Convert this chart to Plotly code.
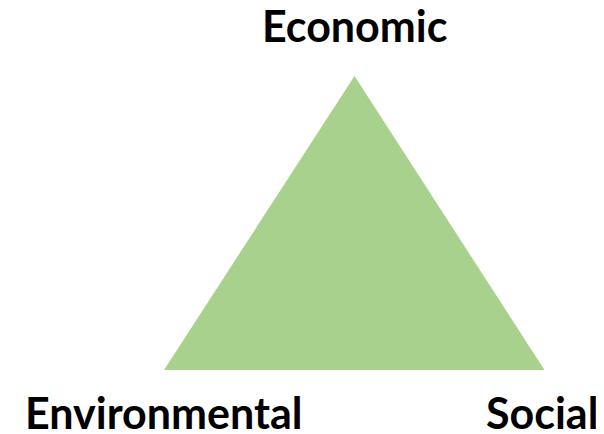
import plotly.graph_objects as go

# Triangle vertices (pillar positions) and labels
labels = ["Economic", "Environmental", "Social"]
tri_x = [354.5, 164, 544.5, 354.5]
tri_y = [76, 370, 370, 76]
label_x = [355, 163.5, 541.5]
label_y = [25, 412.5, 412.5]

fig = go.Figure()
fig.add_trace(go.Scatter(
    x=tri_x, y=tri_y, mode="lines", fill="toself",
    fillcolor="#A9D18E", line=dict(width=0, color="#A9D18E"),
    hoverinfo="skip", showlegend=False,
))
for t, x, y in zip(labels, label_x, label_y):
    fig.add_annotation(x=x, y=y, text="<b>%s</b>" % t, showarrow=False,
                       xanchor="center", yanchor="middle",
                       font=dict(family="Lato", size=43, color="black"))

fig.update_layout(
    width=596, height=426, margin=dict(l=0, r=0, t=0, b=0),
    paper_bgcolor="white", plot_bgcolor="white",
    xaxis=dict(range=[8, 604], visible=False, fixedrange=True),
    yaxis=dict(range=[434, 8], visible=False, fixedrange=True),
)
fig.write_html("out.html")
